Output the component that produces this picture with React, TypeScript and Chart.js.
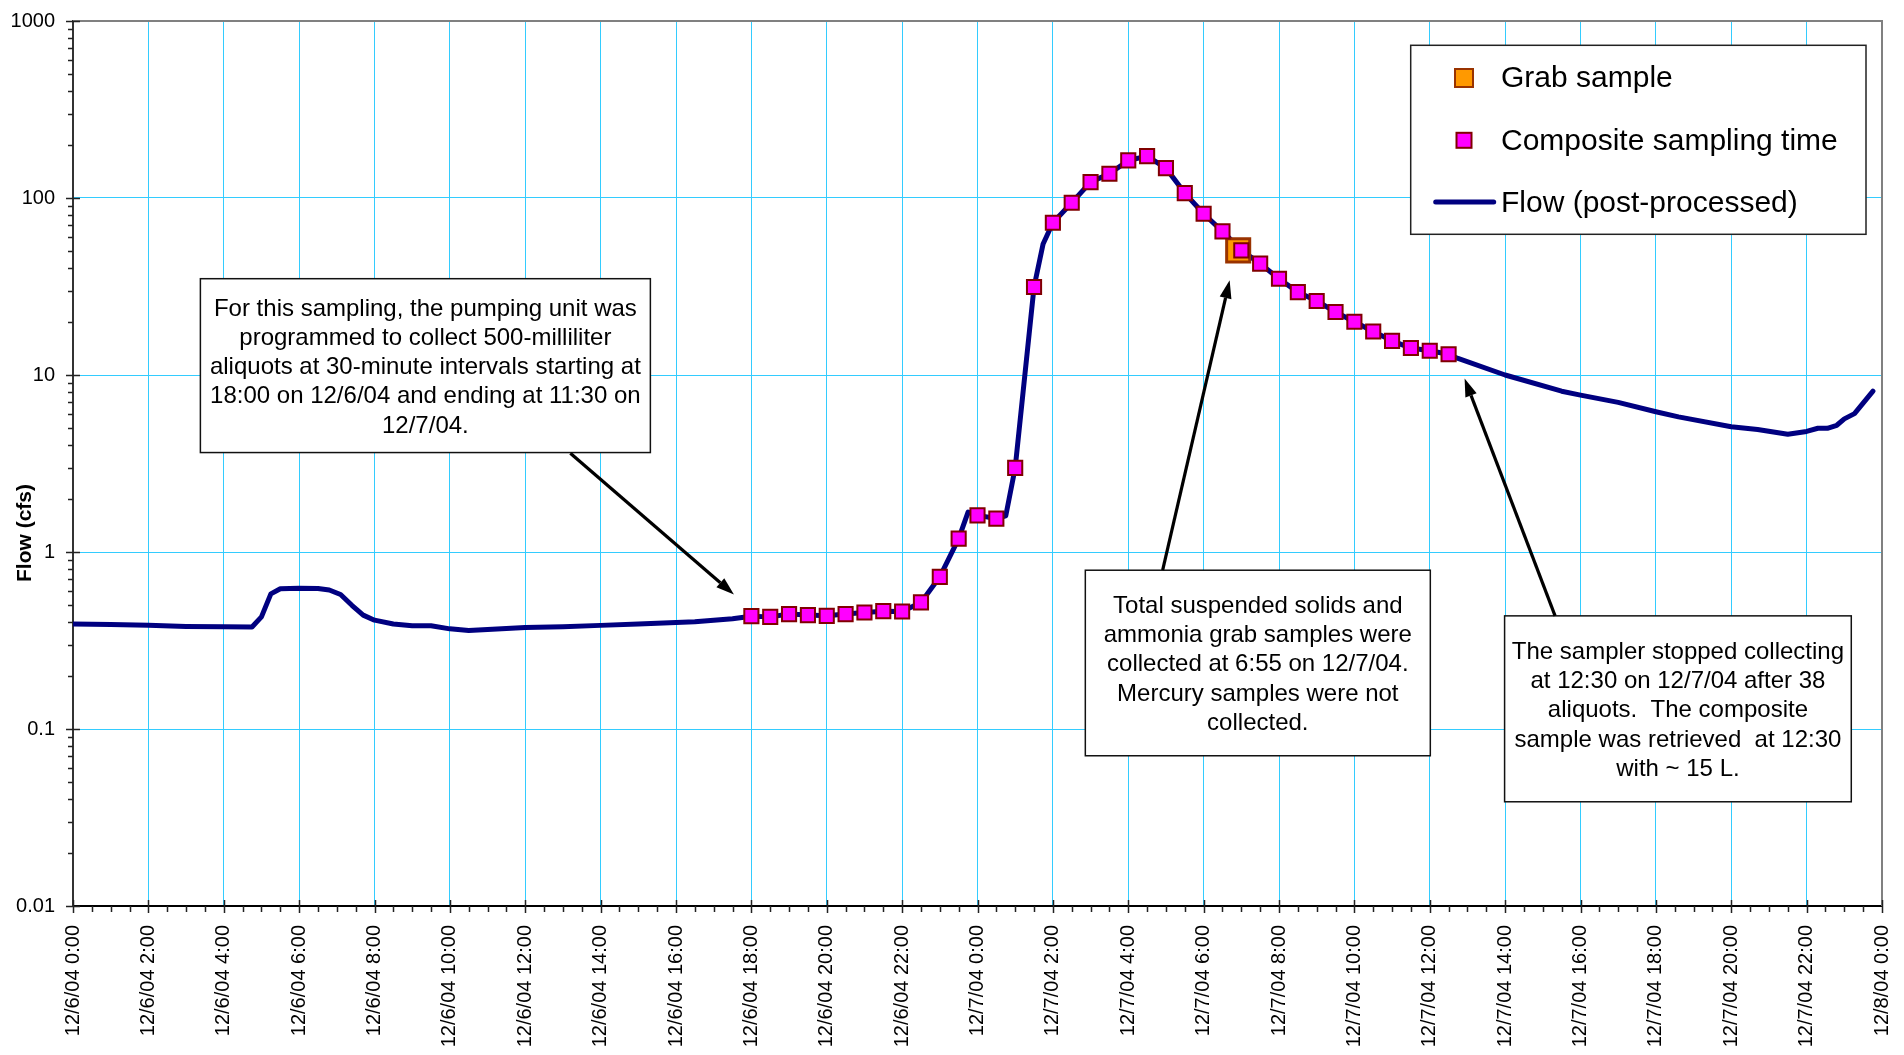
import React, { useEffect, useRef } from 'react';
import { Chart, registerables } from 'chart.js';

Chart.register(...registerables);

// Time axis in hours since 12/6/04 0:00
const xTickHours = [0, 2, 4, 6, 8, 10, 12, 14, 16, 18, 20, 22, 24, 26, 28, 30, 32, 34, 36, 38, 40, 42, 44, 46, 48];
const xTickLabels = [
  '12/6/04 0:00', '12/6/04 2:00', '12/6/04 4:00', '12/6/04 6:00', '12/6/04 8:00', '12/6/04 10:00',
  '12/6/04 12:00', '12/6/04 14:00', '12/6/04 16:00', '12/6/04 18:00', '12/6/04 20:00', '12/6/04 22:00',
  '12/7/04 0:00', '12/7/04 2:00', '12/7/04 4:00', '12/7/04 6:00', '12/7/04 8:00', '12/7/04 10:00',
  '12/7/04 12:00', '12/7/04 14:00', '12/7/04 16:00', '12/7/04 18:00', '12/7/04 20:00', '12/7/04 22:00',
  '12/8/04 0:00',
];
const yTickValues = [0.01, 0.1, 1, 10, 100, 1000];
const yTickLabels = ['0.01', '0.1', '1', '10', '100', '1000'];

// Flow (post-processed), cfs
const flowHours = [
  0, 1, 2, 3, 4, 4.75, 5.0, 5.25, 5.5, 6.0, 6.5, 6.8, 7.1, 7.4, 7.7, 8.0, 8.5, 9.0, 9.5, 10.0,
  10.5, 11.0, 11.5, 12.0, 13.0, 14.0, 15.0, 16.0, 16.5, 17.0, 17.5,
  18.0, 18.5, 19.0, 19.5, 20.0, 20.5, 21.0, 21.5, 22.0, 22.5, 23.0, 23.5, 23.75, 24.0, 24.5, 24.75,
  25.0, 25.5, 25.74, 26.0, 26.5, 27.0, 27.5, 28.0, 28.5, 29.0, 29.5, 30.0, 30.5, 31.0, 31.5, 32.0,
  32.5, 33.0, 33.5, 34.0, 34.5, 35.0, 35.5, 36.0, 36.5,
  36.75, 38.0, 39.5, 40.0, 41.0, 42.0, 42.6, 44.0, 44.7, 45.5, 46.0, 46.3, 46.55, 46.8, 47.0, 47.27, 47.76,
];
const flowCfs = [
  0.392, 0.39, 0.385, 0.38, 0.378, 0.377, 0.43, 0.58, 0.62, 0.625, 0.622, 0.61, 0.575, 0.5, 0.44, 0.412, 0.392, 0.383, 0.383, 0.368,
  0.36, 0.365, 0.37, 0.375, 0.378, 0.385, 0.392, 0.4, 0.403, 0.412, 0.42,
  0.434, 0.43, 0.446, 0.44, 0.436, 0.446, 0.455, 0.463, 0.461, 0.519, 0.724, 1.19, 1.68, 1.61, 1.545, 1.6,
  2.99, 31.4, 55, 72.5, 94, 123, 137, 163, 172.5, 147.5, 106.6, 81.5, 64.8, 50.6, 42.6, 35,
  29.4, 26.2, 22.7, 20.0, 17.6, 15.6, 14.2, 13.7, 13.1,
  12.4, 10.0, 8.1, 7.7, 7.0, 6.2, 5.8, 5.1, 4.92, 4.63, 4.8, 5.0, 5.0, 5.2, 5.65, 6.05, 8.1,
];

// Composite sampling times (38 aliquots, 12/6 18:00 to 12/7 12:30)
const compositeHours = [
  18, 18.5, 19, 19.5, 20, 20.5, 21, 21.5, 22, 22.5, 23, 23.5, 24, 24.5, 25, 25.5, 26, 26.5, 27,
  27.5, 28, 28.5, 29, 29.5, 30, 30.5, 31, 31.5, 32, 32.5, 33, 33.5, 34, 34.5, 35, 35.5, 36, 36.5,
];
const compositeCfs = [
  0.434, 0.43, 0.446, 0.44, 0.436, 0.446, 0.455, 0.463, 0.461, 0.519, 0.724, 1.19, 1.61, 1.545, 2.99, 31.4, 72.5, 94, 123,
  137, 163, 172.5, 147.5, 106.6, 81.5, 64.8, 50.6, 42.6, 35, 29.4, 26.2, 22.7, 20.0, 17.6, 15.6, 14.2, 13.7, 13.1,
];

// Grab sample at 6:55 on 12/7/04
const grabHours = [30.917];
const grabCfs = [50.6];

const FONT = '"Liberation Sans", Arial, sans-serif';
const GRID = '#33ccff';

type Note = { lines: string[]; box: [number, number, number, number]; from: [number, number]; to: [number, number] };
// box: [leftHour, rightHour, topCfs, bottomCfs]; arrow from/to: [hour, cfs]
const notes: Note[] = [
  {
    lines: [
      'For this sampling, the pumping unit was',
      'programmed to collect 500-milliliter',
      'aliquots at 30-minute intervals starting at',
      '18:00 on 12/6/04 and ending at 11:30 on',
      '12/7/04.',
    ],
    box: [3.38, 15.32, 35.0, 3.646],
    from: [13.197, 3.617],
    to: [17.538, 0.575],
  },
  {
    lines: [
      'Total suspended solids and',
      'ammonia grab samples were',
      'collected at 6:55 on 12/7/04.',
      'Mercury samples were not',
      'collected.',
    ],
    box: [26.861, 36.015, 0.789, 0.0706],
    from: [28.913, 0.789],
    to: [30.69, 34.25],
  },
  {
    lines: [
      'The sampler stopped collecting',
      'at 12:30 on 12/7/04 after 38',
      'aliquots.  The composite',
      'sample was retrieved  at 12:30',
      'with ~ 15 L.',
    ],
    box: [37.986, 47.185, 0.4357, 0.0388],
    from: [39.326, 0.4357],
    to: [36.925, 9.544],
  },
];

function drawArrow(ctx: CanvasRenderingContext2D, x1: number, y1: number, x2: number, y2: number) {
  const ang = Math.atan2(y2 - y1, x2 - x1);
  const len = 18;
  const w = 6;
  const bx = x2 - len * Math.cos(ang);
  const by = y2 - len * Math.sin(ang);
  ctx.beginPath();
  ctx.moveTo(x1, y1);
  ctx.lineTo(bx, by);
  ctx.stroke();
  ctx.beginPath();
  ctx.moveTo(x2, y2);
  ctx.lineTo(bx - w * Math.sin(ang), by + w * Math.cos(ang));
  ctx.lineTo(bx + w * Math.sin(ang), by - w * Math.cos(ang));
  ctx.closePath();
  ctx.fill();
}

const zeroPadding = (s: any) => {
  s.paddingLeft = 0;
  s.paddingRight = 0;
  s.paddingTop = 0;
  s.paddingBottom = 0;
};

const overlayPlugin = {
  id: 'overlay',
  afterDraw(chart: any) {
    const { ctx, chartArea: a, scales } = chart;
    const xs = scales.x;
    const ys = scales.y;
    const px = (h: number) => xs.getPixelForValue(h);
    const py = (v: number) => ys.getPixelForValue(v);
    ctx.save();

    // plot area top/right border
    ctx.strokeStyle = '#808080';
    ctx.lineWidth = 2;
    ctx.beginPath();
    ctx.moveTo(a.left, a.top);
    ctx.lineTo(a.right, a.top);
    ctx.lineTo(a.right, a.bottom);
    ctx.stroke();

    // tick marks
    ctx.strokeStyle = '#222';
    ctx.lineWidth = 1.5;
    ctx.beginPath();
    for (let h = 0; h <= 48; h += 0.5) {
      const x = Math.round(px(h)) + 0.5;
      if (h % 2 === 0) {
        ctx.moveTo(x, a.bottom - 6);
        ctx.lineTo(x, a.bottom + 7);
      } else {
        ctx.moveTo(x, a.bottom);
        ctx.lineTo(x, a.bottom + 6);
      }
    }
    for (const d of yTickValues) {
      const y = Math.round(py(d)) + 0.5;
      ctx.moveTo(a.left - 7, y);
      ctx.lineTo(a.left + 7, y);
      if (d < 1000) {
        for (let m = 2; m <= 9; m++) {
          const ym = Math.round(py(d * m)) + 0.5;
          ctx.moveTo(a.left - 5, ym);
          ctx.lineTo(a.left, ym);
        }
      }
    }
    ctx.stroke();

    // y axis title
    ctx.save();
    ctx.translate(a.left - 48, py(1.28));
    ctx.rotate(-Math.PI / 2);
    ctx.fillStyle = '#000';
    ctx.font = `bold 21px ${FONT}`;
    ctx.textAlign = 'center';
    ctx.textBaseline = 'middle';
    ctx.fillText('Flow (cfs)', 0, 0);
    ctx.restore();

    // annotation boxes and arrows
    ctx.font = `24px ${FONT}`;
    ctx.textAlign = 'center';
    ctx.textBaseline = 'alphabetic';
    for (const n of notes) {
      const l = px(n.box[0]);
      const r = px(n.box[1]);
      const t = py(n.box[2]);
      const b = py(n.box[3]);
      ctx.fillStyle = '#fff';
      ctx.fillRect(l, t, r - l, b - t);
      ctx.strokeStyle = '#111';
      ctx.lineWidth = 1.5;
      ctx.strokeRect(l, t, r - l, b - t);
      ctx.fillStyle = '#000';
      const cx = (l + r) / 2;
      const cy = (t + b) / 2;
      const lh = 29.3;
      n.lines.forEach((line, i) => {
        ctx.fillText(line, cx, cy + (i - (n.lines.length - 1) / 2) * lh + 8.5);
      });
      ctx.strokeStyle = '#000';
      ctx.fillStyle = '#000';
      ctx.lineWidth = 3.2;
      drawArrow(ctx, px(n.from[0]), py(n.from[1]), px(n.to[0]), py(n.to[1]));
    }

    // legend
    const lg = { left: a.right - 471.3, top: a.top + 24.3, w: 455.3, h: 189 };
    ctx.fillStyle = '#fff';
    ctx.fillRect(lg.left, lg.top, lg.w, lg.h);
    ctx.strokeStyle = '#222';
    ctx.lineWidth = 1.5;
    ctx.strokeRect(lg.left, lg.top, lg.w, lg.h);
    const mx = lg.left + 53.3;
    // grab marker
    ctx.fillStyle = '#FF9900';
    ctx.strokeStyle = '#993300';
    ctx.lineWidth = 2;
    ctx.fillRect(mx - 9, lg.top + 32.7 - 9, 18, 18);
    ctx.strokeRect(mx - 9, lg.top + 32.7 - 9, 18, 18);
    // composite marker
    ctx.fillStyle = '#FF00FF';
    ctx.strokeStyle = '#800000';
    ctx.fillRect(mx - 7.5, lg.top + 95 - 7.5, 15, 15);
    ctx.strokeRect(mx - 7.5, lg.top + 95 - 7.5, 15, 15);
    // flow line
    ctx.strokeStyle = '#000080';
    ctx.lineWidth = 5;
    ctx.lineCap = 'round';
    ctx.beginPath();
    ctx.moveTo(lg.left + 25, lg.top + 156.7);
    ctx.lineTo(lg.left + 83, lg.top + 156.7);
    ctx.stroke();
    ctx.fillStyle = '#000';
    ctx.font = `30px ${FONT}`;
    ctx.textAlign = 'left';
    ctx.fillText('Grab sample', lg.left + 90.3, lg.top + 41.7);
    ctx.fillText('Composite sampling time', lg.left + 90.3, lg.top + 105);
    ctx.fillText('Flow (post-processed)', lg.left + 90.3, lg.top + 166.7);

    ctx.restore();
  },
};

export default function App() {
  const ref = useRef<HTMLCanvasElement>(null);
  useEffect(() => {
    const canvas = ref.current;
    if (!canvas) return;
    const chart = new Chart(canvas, {
      type: 'scatter',
      data: {
        datasets: [
          {
            label: 'Composite sampling time',
            data: compositeHours.map((h, i) => ({ x: h, y: compositeCfs[i] })),
            pointStyle: 'rect',
            pointRadius: 10,
            pointHoverRadius: 10,
            backgroundColor: '#FF00FF',
            borderColor: '#800000',
            borderWidth: 2,
            order: 0,
          },
          {
            label: 'Grab sample',
            data: grabHours.map((h, i) => ({ x: h, y: grabCfs[i] })),
            pointStyle: 'rect',
            pointRadius: 16.3,
            pointHoverRadius: 16.3,
            backgroundColor: '#FF9900',
            borderColor: '#993300',
            borderWidth: 3,
            order: 1,
          },
          {
            label: 'Flow (post-processed)',
            data: flowHours.map((h, i) => ({ x: h, y: flowCfs[i] })),
            showLine: true,
            pointRadius: 0,
            pointHoverRadius: 0,
            borderColor: '#000080',
            backgroundColor: '#000080',
            borderWidth: 5,
            borderJoinStyle: 'round',
            borderCapStyle: 'round',
            tension: 0,
            order: 2,
          } as any,
        ],
      },
      options: {
        responsive: false,
        animation: false,
        devicePixelRatio: 1,
        events: [],
        layout: { padding: { top: 21, right: 22, left: 0, bottom: 0 } },
        plugins: { legend: { display: false }, tooltip: { enabled: false }, title: { display: false } },
        scales: {
          x: {
            type: 'linear',
            min: 0,
            max: 48,
            afterBuildTicks: (s: any) => {
              s.ticks = xTickHours.map((v) => ({ value: v }));
            },
            afterFit: (s: any) => {
              s.height = 149;
              zeroPadding(s);
            },
            grid: { color: GRID, lineWidth: 1, drawTicks: false },
            border: { color: '#000', width: 2 },
            ticks: {
              autoSkip: false,
              maxRotation: 90,
              minRotation: 90,
              padding: 19,
              color: '#000',
              font: { family: FONT, size: 20 },
              callback: (_v: any, i: number) => xTickLabels[i],
            },
          },
          y: {
            type: 'logarithmic',
            min: 0.01,
            max: 1000,
            afterBuildTicks: (s: any) => {
              s.ticks = yTickValues.map((v) => ({ value: v }));
            },
            afterFit: (s: any) => {
              s.width = 73;
              zeroPadding(s);
            },
            grid: { color: GRID, lineWidth: 1, drawTicks: false },
            border: { color: '#333', width: 2 },
            ticks: {
              autoSkip: false,
              padding: 18,
              color: '#000',
              font: { family: FONT, size: 20 },
              callback: (_v: any, i: number) => yTickLabels[i],
            },
          },
        },
      } as any,
      plugins: [overlayPlugin],
    });
    return () => chart.destroy();
  }, []);

  return (
    <div style={{ position: 'fixed', left: 0, top: 0, width: 1904, height: 1055, background: '#fff' }}>
      <canvas ref={ref} width={1904} height={1055} style={{ display: 'block' }} />
    </div>
  );
}
